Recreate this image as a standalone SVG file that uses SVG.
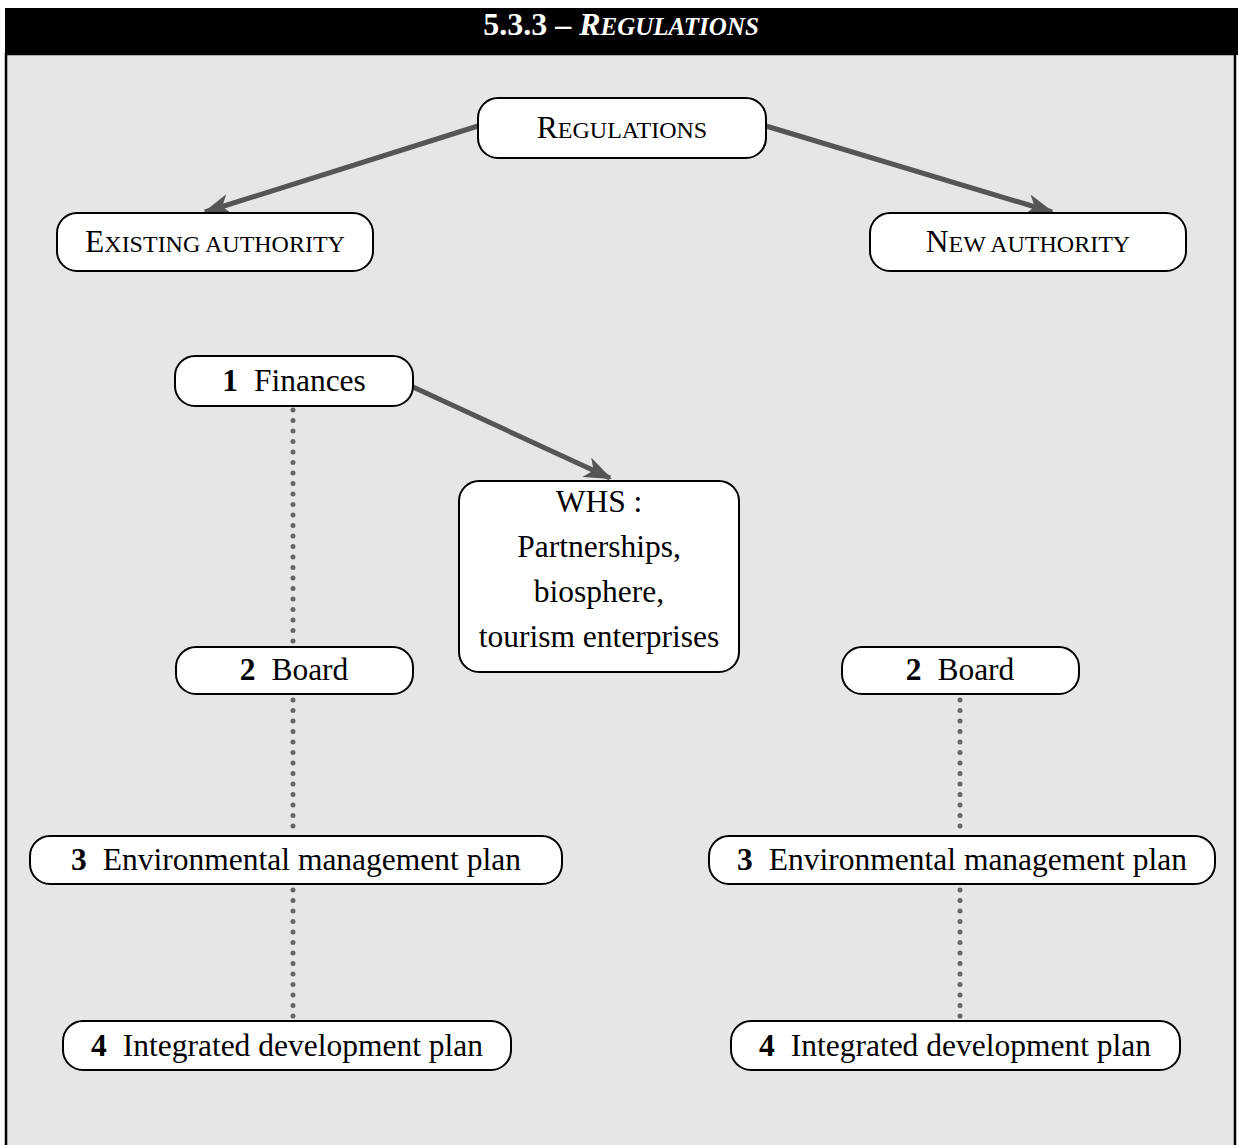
<svg xmlns="http://www.w3.org/2000/svg" width="1238" height="1145" viewBox="0 0 1238 1145">
<style>
.box{fill:#fff;stroke:#000;stroke-width:2}
.t{font-family:"Liberation Serif",serif;font-size:31.5px;fill:#000;text-anchor:middle}
.sc{font-size:24px}
.num{font-weight:bold}
.arr{stroke:#555;stroke-width:5;fill:none;marker-end:url(#ah)}
.dot{stroke:#666;stroke-width:5;stroke-linecap:round;stroke-dasharray:0 10.5;fill:none}
.title{font-family:"Liberation Serif",serif;font-size:32px;font-weight:bold;fill:#fff;text-anchor:middle}
</style>
<defs>
<marker id="ah" markerUnits="userSpaceOnUse" markerWidth="32" markerHeight="32" viewBox="-26 -13 30 26" refX="0" refY="0" orient="auto">
<path d="M2,0 L-24,-10 L-17,0 L-24,10 Z" fill="#555"/>
</marker>
</defs>
<rect x="0" y="0" width="1238" height="1145" fill="#fff"/>
<rect x="5" y="8" width="1233" height="47" fill="#000"/>
<rect x="6" y="54" width="1229" height="1095" fill="#e6e6e6" stroke="#000" stroke-width="2.5"/>
<text class="title" x="621" y="35">5.3.3 – <tspan font-style="italic">R<tspan font-size="25px">EGULATIONS</tspan></tspan></text>

<g id="connectors">
<path class="arr" d="M478,126 L205,212"/>
<path class="arr" d="M766,126 L1052,212"/>
<path class="arr" d="M413,387 L610,478"/>
<path class="dot" d="M293,410 V644"/>
<path class="dot" d="M293,700 V834"/>
<path class="dot" d="M293,890 V1019"/>
<path class="dot" d="M960,700 V834"/>
<path class="dot" d="M960,890 V1019"/>
</g>

<g id="regulations">
<rect class="box" x="478" y="98" width="288" height="60" rx="20"/>
<text class="t" x="622" y="138">R<tspan class="sc">EGULATIONS</tspan></text>
</g>
<g id="existing-authority">
<rect class="box" x="57" y="213" width="316" height="58" rx="20"/>
<text class="t" x="215" y="252">E<tspan class="sc">XISTING AUTHORITY</tspan></text>
</g>
<g id="new-authority">
<rect class="box" x="870" y="213" width="316" height="58" rx="20"/>
<text class="t" x="1028" y="252">N<tspan class="sc">EW AUTHORITY</tspan></text>
</g>
<g id="finances">
<rect class="box" x="175" y="356" width="238" height="50" rx="20"/>
<text class="t" x="294" y="391"><tspan class="num">1</tspan><tspan dx="16">Finances</tspan></text>
</g>
<g id="whs">
<rect class="box" x="459" y="481" width="280" height="191" rx="20"/>
<text class="t" x="599" y="512">WHS :</text>
<text class="t" x="599" y="557">Partnerships,</text>
<text class="t" x="599" y="602">biosphere,</text>
<text class="t" x="599" y="647">tourism enterprises</text>
</g>
<g id="board-left">
<rect class="box" x="176" y="647" width="237" height="47" rx="20"/>
<text class="t" x="294" y="680"><tspan class="num">2</tspan><tspan dx="16">Board</tspan></text>
</g>
<g id="board-right">
<rect class="box" x="842" y="647" width="237" height="47" rx="20"/>
<text class="t" x="960" y="680"><tspan class="num">2</tspan><tspan dx="16">Board</tspan></text>
</g>
<g id="env-left">
<rect class="box" x="30" y="836" width="532" height="48" rx="20"/>
<text class="t" x="296" y="870"><tspan class="num">3</tspan><tspan dx="16">Environmental management plan</tspan></text>
</g>
<g id="env-right">
<rect class="box" x="709" y="836" width="506" height="48" rx="20"/>
<text class="t" x="962" y="870"><tspan class="num">3</tspan><tspan dx="16">Environmental management plan</tspan></text>
</g>
<g id="idp-left">
<rect class="box" x="63" y="1021" width="448" height="49" rx="20"/>
<text class="t" x="287" y="1056"><tspan class="num">4</tspan><tspan dx="16">Integrated development plan</tspan></text>
</g>
<g id="idp-right">
<rect class="box" x="731" y="1021" width="449" height="49" rx="20"/>
<text class="t" x="955" y="1056"><tspan class="num">4</tspan><tspan dx="16">Integrated development plan</tspan></text>
</g>
</svg>
